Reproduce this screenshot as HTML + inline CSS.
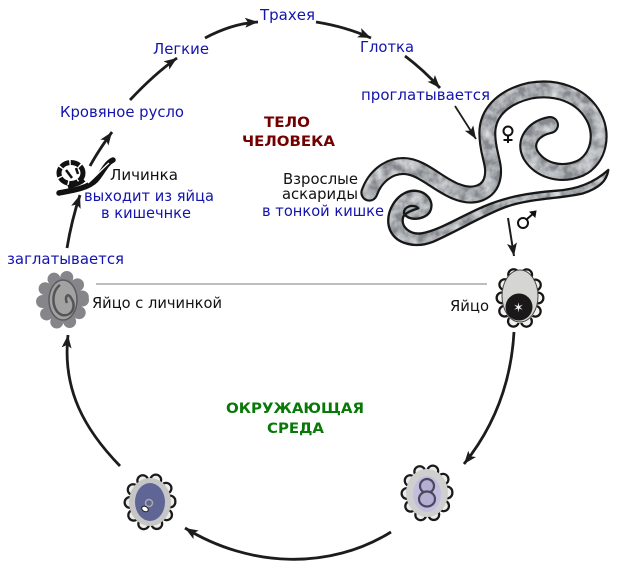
<!DOCTYPE html>
<html><head><meta charset="utf-8"><style>
html,body{margin:0;padding:0;background:#fff;width:618px;height:572px;overflow:hidden}
svg{display:block}
text{font-family:"DejaVu Sans","Liberation Sans",sans-serif;font-size:15px}
.b{fill:#1313ad}.k{fill:#111}
.r{fill:#720000;font-weight:bold;font-size:14.500px}.g{fill:#087808;font-weight:bold;font-size:14.500px}
.a{fill:none;stroke:#1c1c1c;stroke-width:2.8;stroke-linecap:butt;marker-end:url(#m)}
</style></head><body>
<svg width="618" height="572" viewBox="0 0 618 572" xmlns="http://www.w3.org/2000/svg">
<defs>
<marker id="m" markerUnits="userSpaceOnUse" markerWidth="16" markerHeight="12" refX="13" refY="5" orient="auto">
<path d="M0 0L13 5L0 10L3 5Z" fill="#1c1c1c"/></marker>
<filter id="tex" x="-5%" y="-5%" width="110%" height="110%">
<feTurbulence type="fractalNoise" baseFrequency="0.03" numOctaves="3" seed="4"/>
<feColorMatrix type="matrix" values="0 0 0 0 0.75  0 0 0 0 0.77  0 0 0 0 0.79  1.8 0 0 0 -0.6"/>
<feComposite in2="SourceGraphic" operator="in" result="n"/>
<feMerge><feMergeNode in="SourceGraphic"/><feMergeNode in="n"/></feMerge>
</filter>
</defs>

<line x1="96" y1="284" x2="487" y2="284" stroke="#a8a8a8" stroke-width="1.6"/>

<path class="a" d="M205 38C222 29 240 23 258 22"/>
<path class="a" d="M316 22C335 25 353 30 371 38"/>
<path class="a" d="M130 100C145 84 160 70 177 58"/>
<path class="a" d="M90 166C97 153 104 143 112 132"/>
<path class="a" d="M67 248C70 230 74 213 80 195"/>
<path class="a" d="M405 56C417 65 429 76 440 88"/>
<path class="a" style="stroke-width:1.8" d="M455 106L476 139"/>
<path class="a" style="stroke-width:2" d="M508 218L514 256"/>
<path class="a" d="M514 332C511 385 493 428 464 464"/>
<path class="a" d="M391 532C330 570 250 568 185 528"/>
<path class="a" d="M120 466C85 430 62 390 68 335"/>

<!-- worms -->
<g transform="translate(350 70) scale(.3333)">
<path d="M58 368C75 320 115 288 160 288C215 288 265 345 320 365C370 385 420 370 428 320C435 280 412 250 412 190C412 120 470 78 540 62C620 48 690 75 725 130C765 190 745 270 690 295C630 320 570 300 542 255C520 215 550 175 600 165" fill="none" stroke="#171717" stroke-width="54" stroke-linecap="round"/>
<g filter="url(#tex)">
<path d="M58 368C75 320 115 288 160 288C215 288 265 345 320 365C370 385 420 370 428 320C435 280 412 250 412 190C412 120 470 78 540 62C620 48 690 75 725 130C765 190 745 270 690 295C630 320 570 300 542 255C520 215 550 175 600 165" fill="none" stroke="#85898e" stroke-width="41" stroke-linecap="round"/>
<path d="M775 300C770 335 745 355 700 370C640 385 540 385 470 410C400 435 320 485 250 515C200 535 140 525 120 480C100 430 140 365 190 362C230 362 255 395 240 425C225 450 175 455 162 430C160 410 190 400 205 415C190 420 170 425 160 440C150 470 180 495 215 490C270 480 330 440 400 410C470 380 540 368 620 362C680 358 730 340 775 300Z" fill="#85898e"/>
</g>
<path d="M775 300C770 335 745 355 700 370C640 385 540 385 470 410C400 435 320 485 250 515C200 535 140 525 120 480C100 430 140 365 190 362C230 362 255 395 240 425C225 450 175 455 162 430C160 410 190 400 205 415C190 420 170 425 160 440C150 470 180 495 215 490C270 480 330 440 400 410C470 380 540 368 620 362C680 358 730 340 775 300Z" fill="none" stroke="#171717" stroke-width="7" stroke-linejoin="round"/>
</g>
<g fill="none" stroke="#111" stroke-width="2">
<circle cx="508" cy="131" r="4.500"/><path d="M508 136V143M503.500 140H512.500"/>
<circle cx="523" cy="223" r="5"/><path d="M527 219L534 213"/>
</g>
<path d="M530 212L536 211L535 217Z" fill="#111" stroke="#111"/>

<!-- larva -->
<ellipse cx="71" cy="173" rx="12" ry="10.500" fill="#fff" stroke="#111" stroke-width="5" stroke-dasharray="9 1.500"/>
<path d="M66 170L72 178M76 168L78 174" stroke="#111" stroke-width="2.500"/>
<path d="M59 193C75 190 88 188 96 180C103 172 106 163 113 160" fill="none" stroke="#111" stroke-width="5.500" stroke-linecap="round"/>
<path d="M88 183C95 177 101 170 109 163" fill="none" stroke="#fff" stroke-width="1.300"/>
<path d="M68 187C74 185 80 184 84 180" fill="none" stroke="#111" stroke-width="4"/>

<!-- egg top right -->
<ellipse cx="520" cy="298" rx="18" ry="25" fill="#fff" stroke="#161616" stroke-width="13" stroke-dasharray="0 13.6" stroke-linecap="round"/>
<ellipse cx="520" cy="298" rx="18" ry="25" fill="#fff" stroke="#f3f1ee" stroke-width="8.500" stroke-dasharray="0 13.6" stroke-linecap="round"/>
<ellipse cx="520" cy="296" rx="18" ry="26" fill="#d5d5d3" stroke="#444" stroke-width="1"/>
<circle cx="519" cy="307" r="13.500" fill="#1a1818"/>
<text x="513" y="312" style="font-size:13px" fill="#eee">✶</text>

<!-- egg bottom right -->
<ellipse cx="427" cy="493" rx="20" ry="23" fill="#fff" stroke="#1a1a1a" stroke-width="13" stroke-dasharray="0 13.4" stroke-linecap="round"/>
<ellipse cx="427" cy="493" rx="20" ry="23" fill="#fff" stroke="#ecebe8" stroke-width="8.500" stroke-dasharray="0 13.4" stroke-linecap="round"/>
<ellipse cx="427" cy="493" rx="21" ry="24" fill="#cfcfcf"/>
<ellipse cx="427" cy="494" rx="14" ry="18" fill="#c4bede"/>
<ellipse cx="427" cy="486" rx="7" ry="7" fill="#b6afd2" stroke="#4a4760" stroke-width="2.200"/>
<ellipse cx="427" cy="499" rx="8" ry="7.500" fill="#b6afd2" stroke="#4a4760" stroke-width="2.200"/>

<!-- egg bottom left -->
<ellipse cx="150" cy="502" rx="20" ry="23" fill="#fff" stroke="#1a1a1a" stroke-width="13" stroke-dasharray="0 13.4" stroke-linecap="round"/>
<ellipse cx="150" cy="502" rx="20" ry="23" fill="#fff" stroke="#ecebe8" stroke-width="8.500" stroke-dasharray="0 13.4" stroke-linecap="round"/>
<ellipse cx="150" cy="502" rx="21" ry="24" fill="#c6c6c6"/>
<ellipse cx="150" cy="502" rx="15" ry="19" fill="#5f6595"/>
<circle cx="149" cy="503" r="3.500" fill="none" stroke="#aaa" stroke-width="1.500"/>
<ellipse cx="145" cy="509" rx="3.500" ry="2.500" fill="#fff" stroke="#222" stroke-width="1" transform="rotate(30 145 509)"/>

<!-- egg left -->
<ellipse cx="62.500" cy="300" rx="20" ry="23" fill="#85858a" stroke="#85858a" stroke-width="13" stroke-dasharray="0 13.2" stroke-linecap="round"/>
<ellipse cx="63" cy="300" rx="14" ry="20" fill="#a2a2a2" stroke="#5c5c60" stroke-width="1.500"/>
<path d="M60 285C50 292 52 312 62 315C72 317 77 306 71 298C68 292 64 297 67 303" fill="none" stroke="#555" stroke-width="2.500"/>

<text lengthAdjust="spacingAndGlyphs" class="b" x="260" y="20" textLength="55">Трахея</text>
<text lengthAdjust="spacingAndGlyphs" class="b" x="360" y="52" textLength="54">Глотка</text>
<text lengthAdjust="spacingAndGlyphs" class="b" x="153" y="54" textLength="56">Легкие</text>
<text lengthAdjust="spacingAndGlyphs" class="b" x="60" y="117" textLength="124">Кровяное русло</text>
<text lengthAdjust="spacingAndGlyphs" class="b" x="361" y="100" textLength="129">проглатывается</text>
<text lengthAdjust="spacingAndGlyphs" class="r" x="264" y="127" textLength="46">ТЕЛО</text>
<text lengthAdjust="spacingAndGlyphs" class="r" x="242" y="146" textLength="93">ЧЕЛОВЕКА</text>
<text lengthAdjust="spacingAndGlyphs" class="k" x="283" y="184" textLength="75">Взрослые</text>
<text lengthAdjust="spacingAndGlyphs" class="k" x="282" y="199" textLength="76">аскариды</text>
<text lengthAdjust="spacingAndGlyphs" class="b" x="262" y="216" textLength="122">в тонкой кишке</text>
<text lengthAdjust="spacingAndGlyphs" class="k" x="110" y="180" textLength="68">Личинка</text>
<text lengthAdjust="spacingAndGlyphs" class="b" x="84" y="201" textLength="130">выходит из яйца</text>
<text lengthAdjust="spacingAndGlyphs" class="b" x="101" y="218" textLength="90">в кишечнке</text>
<text lengthAdjust="spacingAndGlyphs" class="b" x="7" y="264" textLength="117">заглатывается</text>
<text lengthAdjust="spacingAndGlyphs" class="k" x="92" y="308" textLength="130">Яйцо с личинкой</text>
<text lengthAdjust="spacingAndGlyphs" class="k" x="450" y="311" textLength="39">Яйцо</text>
<text lengthAdjust="spacingAndGlyphs" class="g" x="226" y="413" textLength="138">ОКРУЖАЮЩАЯ</text>
<text lengthAdjust="spacingAndGlyphs" class="g" x="267" y="433" textLength="57">СРЕДА</text>
</svg>
</body></html>
